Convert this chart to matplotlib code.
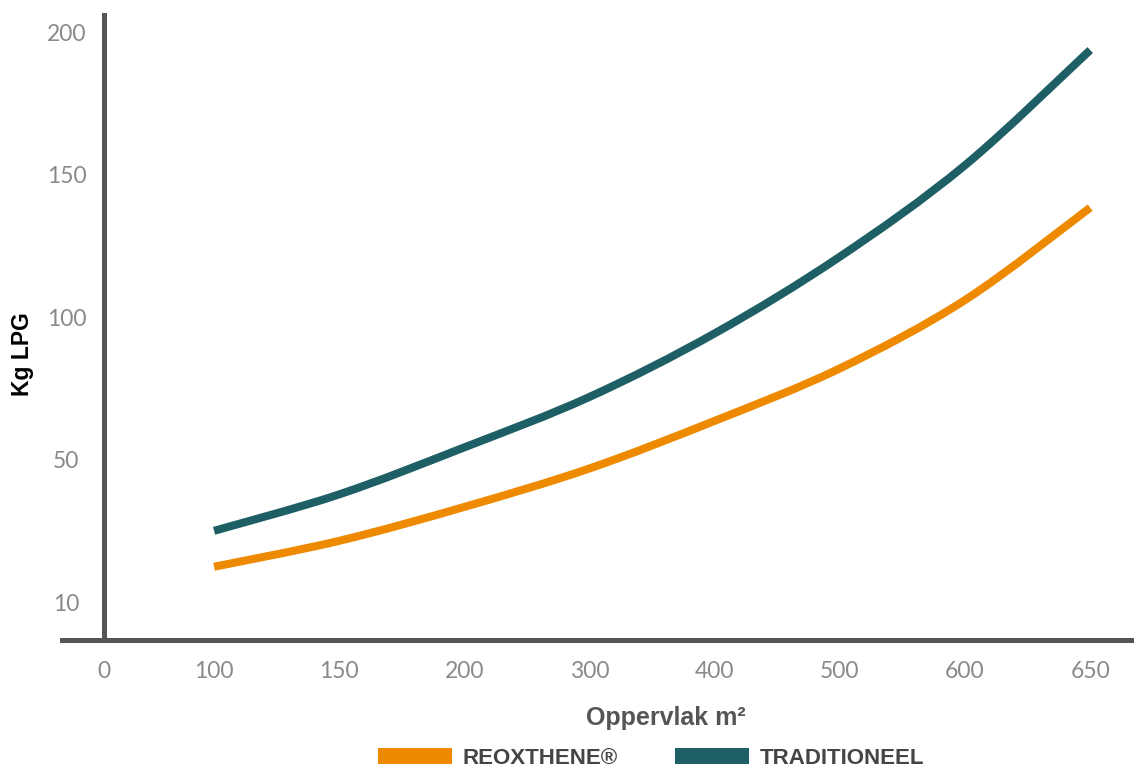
import matplotlib
matplotlib.use("Agg")
import matplotlib.pyplot as plt
from matplotlib.path import Path
from matplotlib.patches import PathPatch
from matplotlib.lines import Line2D

# Values (x = category slot, y in axis units)
x_labels = ["0", "100", "150", "200", "300", "400", "500", "600", "650"]
y_labels = ["10", "50", "100", "150", "200"]
y_ticks = [0, 50, 100, 150, 200]
slots = [1, 2, 3, 4, 5, 6, 7, 8]
reoxthene = [12.4, 21.5, 33.4, 46.9, 63.6, 82.0, 106.0, 138.4]
traditioneel = [25.0, 37.8, 54.3, 72.0, 94.3, 121.2, 153.3, 193.7]

ORANGE = "#ee8a00"
TEAL = "#1e5f66"
AXIS = "#555555"


def smooth_path(xs, ys):
    """Catmull-Rom style bezier path through the points."""
    pts = list(zip(xs, ys))
    ext = [pts[0]] + pts + [pts[-1]]
    verts = [pts[0]]
    codes = [Path.MOVETO]
    for i in range(1, len(ext) - 2):
        p0, p1, p2, p3 = ext[i - 1], ext[i], ext[i + 1], ext[i + 2]
        c1 = (p1[0] + (p2[0] - p0[0]) / 6, p1[1] + (p2[1] - p0[1]) / 6)
        c2 = (p2[0] - (p3[0] - p1[0]) / 6, p2[1] - (p3[1] - p1[1]) / 6)
        verts += [c1, c2, p2]
        codes += [Path.CURVE4] * 3
    return Path(verts, codes)


fig = plt.figure(figsize=(11.34, 7.70), dpi=100)
ax = fig.add_axes([62 / 1134, 130 / 770, 1072 / 1134, 625 / 770])

for ys, col in [(reoxthene, ORANGE), (traditioneel, TEAL)]:
    ax.add_patch(PathPatch(smooth_path(slots, ys), fill=False, edgecolor=col,
                           lw=5.8, capstyle="butt", joinstyle="round"))

ax.set_xlim(-0.215, 8.35)
ax.set_ylim(-13.3, 206)

for s in ["top", "right"]:
    ax.spines[s].set_visible(False)
for s in ["left", "bottom"]:
    ax.spines[s].set_color(AXIS)
    ax.spines[s].set_linewidth(3.6)
ax.spines["left"].set_position(("data", 0.12))

ax.set_xticks([0.12] + slots)
ax.set_xticklabels(x_labels)
ax.set_yticks(y_ticks)
ax.set_yticklabels(y_labels)
ax.tick_params(axis="both", length=0, labelsize=16.5, labelcolor="#8a8a8a")
ax.tick_params(axis="x", pad=15)
ax.tick_params(axis="y", pad=27)
for lab in ax.get_xticklabels() + ax.get_yticklabels():
    lab.set_fontfamily(["Lato", "DejaVu Sans"])
for lab in ax.get_yticklabels():
    lab.set_horizontalalignment("center")

fig.text(22 / 1134, 1 - 354 / 770, "Kg LPG", rotation=90, ha="center", va="center",
         fontsize=16.5, fontweight="bold", color="black", family="Liberation Sans")
fig.text(666 / 1134, 1 - 718 / 770, "Oppervlak m²", ha="center", va="center",
         fontsize=18, fontweight="bold", color="#555555", family="Liberation Sans")

handles = [Line2D([], [], color=ORANGE, lw=11.5, solid_capstyle="butt"),
           Line2D([], [], color=TEAL, lw=11.5, solid_capstyle="butt")]
leg = fig.legend(handles, ["REOXTHENE®", "TRADITIONEEL"], loc="center",
                 bbox_to_anchor=(651 / 1134, 1 - 758 / 770), ncol=2, frameon=False,
                 handlelength=3.33, handletextpad=0.45, columnspacing=2.6,
                 prop={"family": "Liberation Sans", "weight": "bold", "size": 16})
for t in leg.get_texts():
    t.set_color("#444444")

fig.savefig("out.png", dpi=100)
